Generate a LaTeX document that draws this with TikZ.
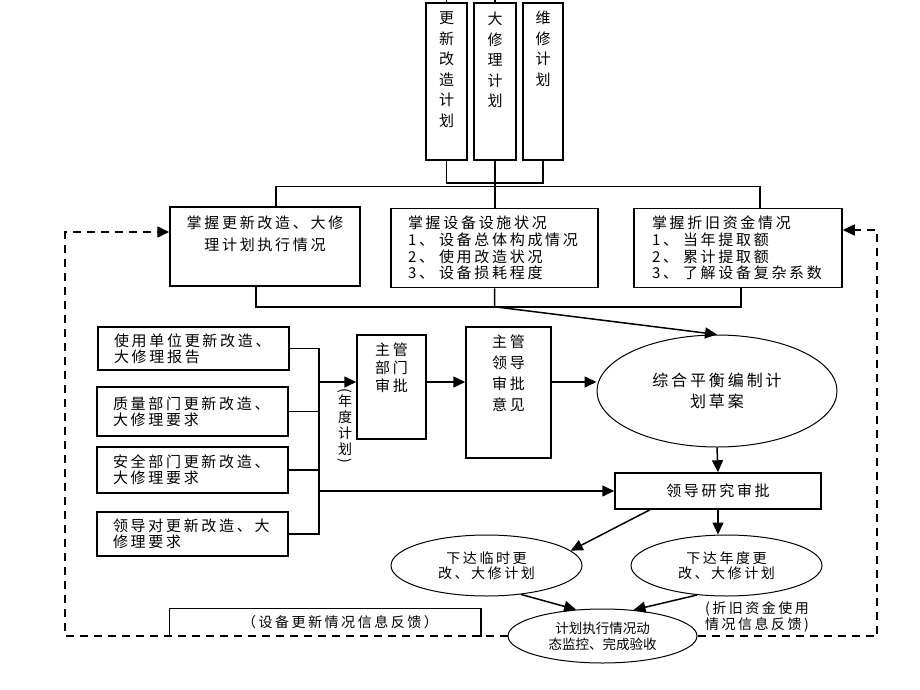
\documentclass[tikz,border=0pt]{standalone}
\usepackage{fontspec}
\setmainfont[LetterSpace=18]{Noto Sans CJK SC}
\newfontfamily\tightfont{Noto Sans CJK SC}
\usepackage{graphicx}
\usepackage{tikz}
\usetikzlibrary{arrows.meta}
\usetikzlibrary{shapes.geometric}
\usetikzlibrary{positioning}
\tikzset{
  planbox/.style={draw, inner sep=0pt},
  graspbox/.style={draw, align=left, inner ysep=0pt, minimum height=79pt,
    font=\fontsize{15}{16.7}\selectfont},
  sourcebox/.style={draw, align=left, inner xsep=16pt, inner ysep=0pt,
    text width=159pt, font=\fontsize{15}{16}\selectfont},
  stageoval/.style={draw, ellipse, inner sep=0pt, align=center, line width=1pt},
  feedback/.style={dash pattern=on 8pt off 6pt, line width=1.6pt}
}
\newcommand{\TopText}[4]{\parbox[c][#1][t]{#2}{\centering\vspace*{#3}#4}}

\begin{document}
\begin{tikzpicture}[x=1pt, y=-1pt,
      >={Triangle[length=12pt,width=11pt]},
      line width=1.5pt,
      font=\fontsize{15}{17}\selectfont]

    \useasboundingbox (0,0) rectangle (920,690);
    \coordinate (TopEdge) at (0,0);
    \coordinate (ArrowRow) at (0,382);
    \coordinate (LoopLeft) at (65,0);
    \coordinate (LoopRight) at (877,0);

    % plan columns
    \node[planbox, font=\fontsize{15}{20.5}\selectfont]
      (RenewPlan) at (446.5,81.5) {\TopText{157pt}{41pt}{9pt}{更\\新\\改\\造\\计\\划}};
    \node[planbox, font=\fontsize{15}{20.5}\selectfont]
      (OverhaulPlan) at (495,81.5) {\TopText{157pt}{42pt}{9pt}{大\\修\\理\\计\\划}};
    \node[planbox, font=\fontsize{15}{20.5}\selectfont]
      (MaintPlan) at (543,81.5) {\TopText{157pt}{40pt}{8pt}{维\\修\\计\\划}};

    % grasp row
    \node[planbox, font=\fontsize{15}{22}\selectfont]
      (GraspExec) at (265,246.5) {\TopText{79pt}{190pt}{9pt}{掌握更新改造、大修\\理计划执行情况}};
    \node[graspbox, text width=173pt, inner xsep=17pt]
      (GraspStatus) at (494.5,248) {掌握设备设施状况\\1、\ 设备总体构成情况\\2、\ 使用改造状况\\3、\ 设备损耗程度};
    \node[graspbox, text width=172pt, inner xsep=18pt]
      (GraspFunds) at (738,248) {掌握折旧资金情况\\1、\ 当年提取额\\2、\ 累计提取额\\3、\ 了解设备复杂系数};

    % sources
    \node[sourcebox, minimum height=43pt]
      (UnitReport) at (193.5,348.5) {使用单位更新改造、\\大修理报告};
    \node[sourcebox, minimum height=49pt]
      (QualityReq) at (192.5,411.5) {质量部门更新改造、\\大修理要求};
    \node[sourcebox, minimum height=46pt]
      (SafetyReq) at (192.5,470) {安全部门更新改造、\\大修理要求};
    \node[sourcebox, minimum height=44pt]
      (LeaderReq) at (192.5,534) {领导对更新改造、大\\修理要求};
    \node[align=center, inner sep=0pt, font=\tightfont\fontsize{14}{16}\selectfont]
      (AnnualTag) at (345,427)
      {\rotatebox[origin=c]{-90}{(}\\[-5pt]年\\度\\计\\划\\[-5pt]\rotatebox[origin=c]{-90}{)}};

    % approvals
    \node[planbox, font=\fontsize{15}{18}\selectfont]
      (DeptApprove) at (391.5,387) {\TopText{104pt}{69pt}{8pt}{主管\\部门\\审批}};
    \node[planbox, font=\fontsize{15}{21}\selectfont]
      (LeaderOpinion) at (508.5,392.5) {\TopText{131pt}{85pt}{8pt}{主管\\领导\\审批\\意见}};
    \node[stageoval, minimum width=240pt, minimum height=112pt, font=\fontsize{16}{21}\selectfont]
      (Balance) at (717,391) {综合平衡编制计\\划草案};
    \node[draw, minimum width=206pt, minimum height=36pt]
      (LeaderReview) at (718,491) {领导研究审批};

    % issued plans
    \node[stageoval, minimum width=191pt, minimum height=61pt, font=\fontsize{14}{15}\selectfont]
      (TempPlan) at (486.5,565.5) {下达临时更\\改、大修计划};
    \node[stageoval, minimum width=191pt, minimum height=61pt, font=\fontsize{14}{15}\selectfont]
      (YearPlan) at (726.5,565.5) {下达年度更\\改、大修计划};
    \node[stageoval, minimum width=189pt, minimum height=54pt, font=\tightfont\fontsize{13.5}{16}\selectfont]
      (Monitor) at (602.5,636) {计划执行情况动\\态监控、完成验收};

    % feedback labels
    \node[minimum width=310pt, minimum height=27pt, inner sep=0pt, font=\fontsize{14}{16}\selectfont]
      (EquipFeedback) at (325,622.5) {\hspace*{30pt}（设备更新情况信息反馈）};
    \node[align=center, font=\fontsize{14}{14}\selectfont]
      (FundsFeedback) at (757,617) {(折旧资金使用\\情况信息反馈)};

    % top part
    \draw (RenewPlan.north) -- (RenewPlan.north |- TopEdge);
    \draw (OverhaulPlan.north) -- (OverhaulPlan.north |- TopEdge);
    \draw (RenewPlan.south) -- ++(0,22) -| (MaintPlan.south);
    \draw (OverhaulPlan.south) -- (OverhaulPlan.south |- GraspStatus.north);
    \draw ([xshift=11pt]GraspExec.north) -- ++(0,-20) -| ([xshift=22pt]GraspFunds.north);
    \draw ([xshift=-9pt]GraspExec.south) -- ++(0,20) -| ([xshift=3pt]GraspFunds.south);
    \draw[->] (GraspStatus.south) -- ++(0,18.5) -- (Balance.north);

    % sources into the approvals
    \draw (UnitReport.east) -- ++(29,0) coordinate (BusTop)
      -- (BusTop |- LeaderReq.east) -- (LeaderReq.east);
    \draw (QualityReq.east) -- (QualityReq.east -| BusTop);
    \draw (SafetyReq.east) -- (SafetyReq.east -| BusTop);
    \draw[->] (BusTop |- ArrowRow) -- (DeptApprove.west |- ArrowRow);
    \draw[->] (DeptApprove.east |- ArrowRow) -- (LeaderOpinion.west |- ArrowRow);
    \draw[->] (LeaderOpinion.east |- ArrowRow) -- (Balance.west |- ArrowRow);
    \draw[->] (BusTop |- LeaderReview.west) -- (LeaderReview.west);

    % review and issue
    \draw[->] (Balance.south) -- (LeaderReview.north);
    \draw[->] (LeaderReview.south) -- (LeaderReview.south |- YearPlan.north);
    \draw[->] ([xshift=-68pt]LeaderReview.south) -- (TempPlan.10);
    \draw[->] (TempPlan.-40) -- (Monitor.135);
    \draw[->] (YearPlan.-135) -- (Monitor.40);

    % feedback loops
    \draw (EquipFeedback.south west) |- (EquipFeedback.north east) -- (EquipFeedback.south east);
    \draw[feedback, ->] (Monitor.west) -- (Monitor.west -| LoopLeft)
      |- ([yshift=14.5pt]GraspExec.west);
    \draw[feedback, ->] (Monitor.east) -- (Monitor.east -| LoopRight)
      |- ([yshift=18pt]GraspFunds.east);

  \end{tikzpicture}
\end{document}
